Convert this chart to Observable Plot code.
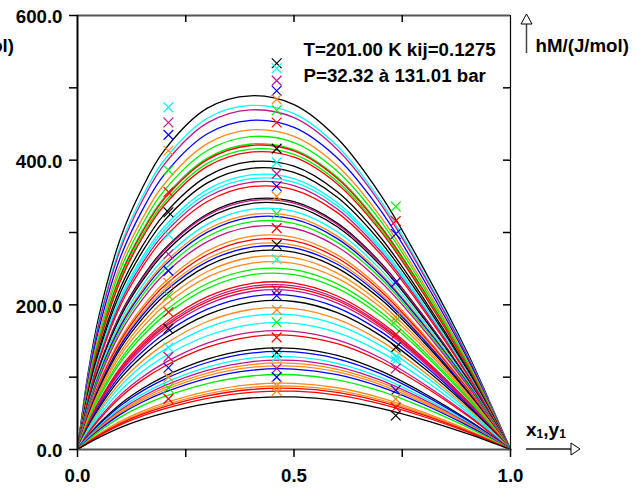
<!DOCTYPE html>
<html><head><meta charset="utf-8">
<script src="https://cdn.jsdelivr.net/npm/d3@7"></script>
<script src="https://cdn.jsdelivr.net/npm/@observablehq/plot@0.6"></script>
<style>body{margin:0;background:#fff} #chart svg{display:block}</style>
</head><body><div id="chart"></div>
<script>
// ---- data ----
const xDomain = [0, 1];
const yDomain = [0, 600];
const yTicksAll = [0, 100, 200, 300, 400, 500, 600];
const yTickLabels = [0, 200, 400, 600];
const yTicksInner = [100, 200, 300, 400, 500];
const xTicksAll = [0, 0.25, 0.5, 0.75, 1];
const xTicksInner = [0.25, 0.5, 0.75];
const xTickLabels = [0, 0.5, 1];

// composition grid and normalized shape of the highest and the lowest curve
const xGrid        = [0, 0.025, 0.05, 0.10, 0.15, 0.20, 0.30, 0.40, 0.50, 0.60, 0.70, 0.80, 0.90, 0.95, 1];
const shapeHighest = [0, 0.22,  0.38, 0.60, 0.74, 0.845, 0.965, 1.00, 0.975, 0.88, 0.72, 0.51, 0.275, 0.14, 0];
const shapeLowest  = [0, 0.12,  0.23, 0.42, 0.57, 0.69, 0.87, 0.975, 0.995, 0.93, 0.78, 0.56, 0.30, 0.155, 0];

// maximum hM of each computed isobar (J/mol), top to bottom
const curvePeaks = [489,476,470,456,443,434,424,422,417,413,400,391,382,377,372,366,349,347,343,335,328,324,318,311,298,293,287,283,277,269,261,252,245,233,229,226,222,215,207,197,188,176,165,159,141,136,129,124,120,116,112,104,92,88,85,81,73];
const curveColorNames = ["black","cyan","magenta","blue","orange","green","green","red","green","red","black","black","cyan","cyan","magenta","red","black","magenta","black","cyan","orange","blue","green","magenta","orange","red","orange","blue","black","orange","orange","green","green","red","magenta","red","magenta","blue","black","orange","cyan","cyan","magenta","red","black","blue","cyan","magenta","orange","orange","blue","green","orange","orange","red","red","black"];

// experimental points (x1, hM)
const crossX = [0.21, 0.46, 0.735];
const crossValuesA = [473,452,435,413,386,356,328,297,270,247,230,213,190,167,141,128,113,100,85,70];
const crossColorsA = ["cyan","magenta","blue","orange","green","red","black","cyan","magenta","blue","orange","green","red","black","cyan","magenta","blue","orange","green","red"];
const crossValuesB = [534,527,510,496,484,469,452,416,397,381,364,350,326,306,283,263,220,213,193,176,155,134,128,112,100,88,81];
const crossColorsB = ["black","cyan","magenta","blue","orange","green","red","black","cyan","magenta","blue","orange","green","red","black","cyan","magenta","blue","orange","green","red","black","cyan","magenta","blue","orange","orange"];
const crossValuesC = [336,316,298,231,183,178,159,141,128,123,112,82,70,58,47];
const crossColorsC = ["green","red","blue","blue","orange","green","red","black","cyan","cyan","magenta","blue","orange","red","black"];

const annotation = ["T=201.00 K kij=0.1275", "P=32.32 à 131.01 bar"];
const yTitle = "hM/(J/mol)";

// ---- styles ----
const palette = {black:"#000000", cyan:"#00ffff", magenta:"#c0168c", blue:"#0000ff", orange:"#ff8a1c", green:"#00f000", red:"#ff0000"};
const FONT = "'Liberation Sans', Arial, sans-serif";
const FS = 18.7;
const W = 642, H = 488, ML = 77, MR = 132, MT = 15, MB = 39;
const FW = W - ML - MR, FH = H - MT - MB;

// ---- tables for the marks ----
const hiPeak = curvePeaks[0], loPeak = curvePeaks[curvePeaks.length - 1];
const curveRows = curvePeaks.flatMap((peak, i) => {
  const t = (peak - loPeak) / (hiPeak - loPeak);
  return xGrid.map((x, j) => ({
    id: i, x,
    hM: peak * (shapeLowest[j] + (shapeHighest[j] - shapeLowest[j]) * t),
    color: palette[curveColorNames[i]]
  }));
});
const crossRows = [
  ...crossValuesA.map((v, i) => ({x: crossX[0], hM: v, color: palette[crossColorsA[i]]})),
  ...crossValuesB.map((v, i) => ({x: crossX[1], hM: v, color: palette[crossColorsB[i]]})),
  ...crossValuesC.map((v, i) => ({x: crossX[2], hM: v, color: palette[crossColorsC[i]]}))
];

const chart = Plot.plot({
  width: W, height: H,
  marginLeft: ML, marginRight: MR, marginTop: MT, marginBottom: MB,
  x: {domain: xDomain},
  y: {domain: yDomain},
  color: {type: "identity"},
  style: {fontFamily: FONT, background: "white", overflow: "visible", color: "black"},
  marks: [
    Plot.line(curveRows, {x: "x", y: "hM", z: "id", stroke: "color", strokeWidth: 1.3, curve: "catmull-rom"}),
    Plot.dot(crossRows, {x: "x", y: "hM", stroke: "color", symbol: "times", r: 4.5, strokeWidth: 1.2}),
    Plot.ruleY([yDomain[1]], {stroke: "#555", strokeWidth: 2}),
    Plot.ruleY([yDomain[0]], {stroke: "#555", strokeWidth: 2}),
    Plot.ruleX([xDomain[1]], {stroke: "black", strokeWidth: 1.2}),
    Plot.ruleX([xDomain[0]], {stroke: "black", strokeWidth: 2}),
    Plot.tickY(yTicksAll, {y: d => d, insetLeft: -8, insetRight: FW, stroke: "black", strokeWidth: 1.5}),
    Plot.tickY(yTicksInner, {y: d => d, insetLeft: FW - 7, stroke: "black", strokeWidth: 1.5}),
    Plot.tickX(xTicksInner, {x: d => d, insetBottom: FH - 7, stroke: "black", strokeWidth: 1.5}),
    Plot.tickX(xTicksAll, {x: d => d, insetTop: FH, insetBottom: -8, stroke: "black", strokeWidth: 1.5}),
    Plot.axisY(yTickLabels, {tickSize: 0, tickPadding: 15, tickFormat: d => d.toFixed(1), fontSize: FS, fontWeight: "bold", label: null, dy: 2}),
    Plot.axisX(xTickLabels, {tickSize: 0, tickPadding: 19, tickFormat: d => d.toFixed(1), fontSize: FS, fontWeight: "bold", label: null}),
    Plot.text([annotation.join("\n")], {frameAnchor: "top-right", textAnchor: "start", lineAnchor: "top", dx: -207, dy: 22, lineHeight: 1.4, fontSize: FS, fontWeight: "bold", fill: "black"}),
    Plot.text([yTitle], {frameAnchor: "top-right", textAnchor: "start", lineAnchor: "middle", dx: 25, dy: 31, fontSize: FS, fontWeight: "bold", fill: "black"})
  ]
});

// axis arrows and remaining titles (decoration)
const svg = d3.select(chart);
const xr = ML + FW, yb = MT + FH;
const deco = svg.append("g").attr("font-family", FONT).attr("font-weight", "bold").attr("text-anchor", "start").attr("fill", "black");
deco.append("line").attr("x1", xr + 16.5).attr("x2", xr + 16.5).attr("y1", MT + 9).attr("y2", MT + 38).attr("stroke", "#444").attr("stroke-width", 1.5);
deco.append("path").attr("d", `M${xr + 11},${MT + 9}L${xr + 22},${MT + 9}L${xr + 16.5},${MT - 1}Z`).attr("fill", "white").attr("stroke", "black");
deco.append("line").attr("x1", xr + 16).attr("x2", xr + 61).attr("y1", yb).attr("y2", yb).attr("stroke", "#555").attr("stroke-width", 2);
deco.append("path").attr("d", `M${xr + 61},${yb - 6}L${xr + 61},${yb + 6}L${xr + 70},${yb}Z`).attr("fill", "white").attr("stroke", "black");
const xl = deco.append("text").attr("x", xr + 16).attr("y", yb - 13).attr("font-size", 19).attr("text-anchor", "start");
xl.append("tspan").text("x");
xl.append("tspan").attr("font-size", 12).attr("dy", 2).text("1");
xl.append("tspan").attr("dy", -2).text(",y");
xl.append("tspan").attr("font-size", 12).attr("dy", 2).text("1");
deco.append("text").attr("x", 14).attr("y", MT + 37).attr("text-anchor", "end").attr("font-size", FS).text(yTitle);

document.getElementById("chart").append(chart);
</script>
</body></html>
